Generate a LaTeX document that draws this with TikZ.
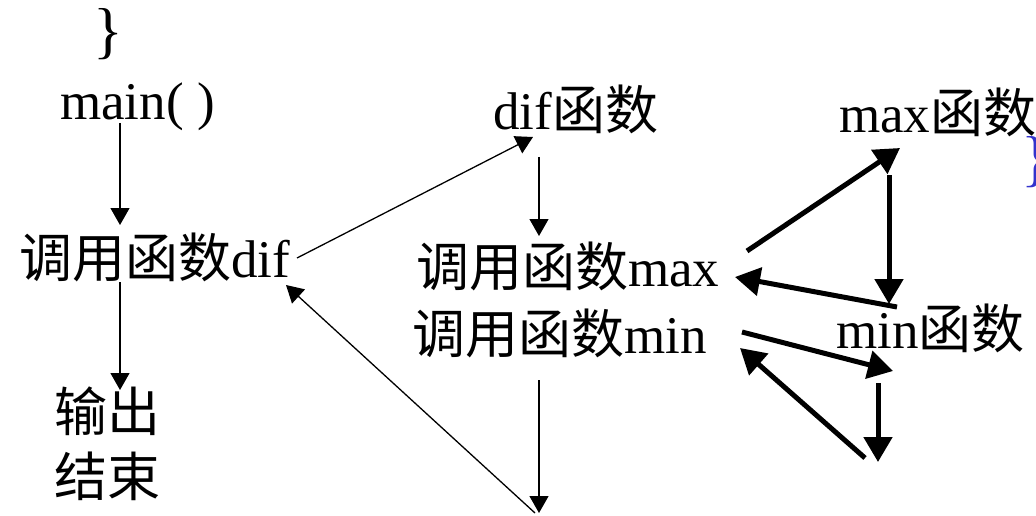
\documentclass[tikz,border=0pt]{standalone}
\usepackage{fontspec}
\setmainfont{Liberation Serif}
\newfontfamily\cjk{Noto Sans CJK SC}
\usepackage{xcolor}
\usepackage{tikz}
\usetikzlibrary{arrows.meta}

\definecolor{bracecol}{RGB}{51,51,204}
\newcommand{\zh}[1]{{\cjk #1}}

\begin{document}
\begin{tikzpicture}[
  x=1pt, y=-1pt,
  lbl/.style={anchor=base west, inner sep=0pt, font=\fontsize{53}{62}\selectfont},
  brc/.style={anchor=base west, inner sep=0pt, font=\fontsize{62}{70}\selectfont},
  arr/.style={-{Triangle[length=17pt,width=19pt]}, line width=1.3pt},
  fat/.style={-{Triangle[length=25pt,width=28pt]}, line width=5pt},
]
\useasboundingbox (0,0) rectangle (1036,516);

% caller side
\node[brc] (brace) at (93,52) {\}};
\node[lbl] (main) at (60,120) {main( )};
\node[lbl] (calldif) at (19,277) {\zh{调用函数}dif};
\node[lbl] (out) at (54,431) {\zh{输出}};
\node[lbl] (fin) at (54,496) {\zh{结束}};

% dif and its two calls
\node[lbl] (dif) at (493,130) {dif\zh{函数}};
\node[lbl] (callmax) at (416,286) {\zh{调用函数}max};
\node[lbl] (callmin) at (412,353) {\zh{调用函数}min};

% callees
\node[lbl] (max) at (839,132) {max\zh{函数}};
\node[lbl] (min) at (836,348) {min\zh{函数}};
\node[brc, text=bracecol] (rbrace) at (1021,179) {\}};

% end points of the connectors
\coordinate (main-o) at (120,123);
\coordinate (calldif-i) at (120,225);
\coordinate (calldif-o) at (120,282);
\coordinate (out-i) at (120,390);
\coordinate (calldif-r) at (297,258);
\coordinate (calldif-b) at (286,285);
\coordinate (dif-i) at (533,137);
\coordinate (dif-o) at (539,157);
\coordinate (callmax-i) at (539,236);
\coordinate (callmin-o) at (539,380);
\coordinate (dif-end) at (539,513);
\coordinate (dif-ret) at (535,513);
\coordinate (callmax-o) at (747,251);
\coordinate (callmax-b) at (735,277);
\coordinate (max-i) at (900,148);
\coordinate (max-o) at (889,175);
\coordinate (max-end) at (889,304);
\coordinate (max-ret) at (897,307);
\coordinate (callmin-r) at (742,332);
\coordinate (callmin-b) at (740,348);
\coordinate (min-i) at (893,371);
\coordinate (min-o) at (878,383);
\coordinate (min-end) at (878,462);
\coordinate (min-ret) at (865,458);

\draw[arr] (main-o) -- (calldif-i);
\draw[arr] (calldif-o) -- (out-i);
\draw[arr] (calldif-r) -- (dif-i);
\draw[arr] (dif-o) -- (callmax-i);
\draw[arr] (callmin-o) -- (dif-end);
\draw[arr] (dif-ret) -- (calldif-b);

\draw[fat] (callmax-o) -- (max-i);
\draw[fat] (max-o) -- (max-end);
\draw[fat] (max-ret) -- (callmax-b);
\draw[fat] (callmin-r) -- (min-i);
\draw[fat] (min-o) -- (min-end);
\draw[fat] (min-ret) -- (callmin-b);
\end{tikzpicture}
\end{document}
